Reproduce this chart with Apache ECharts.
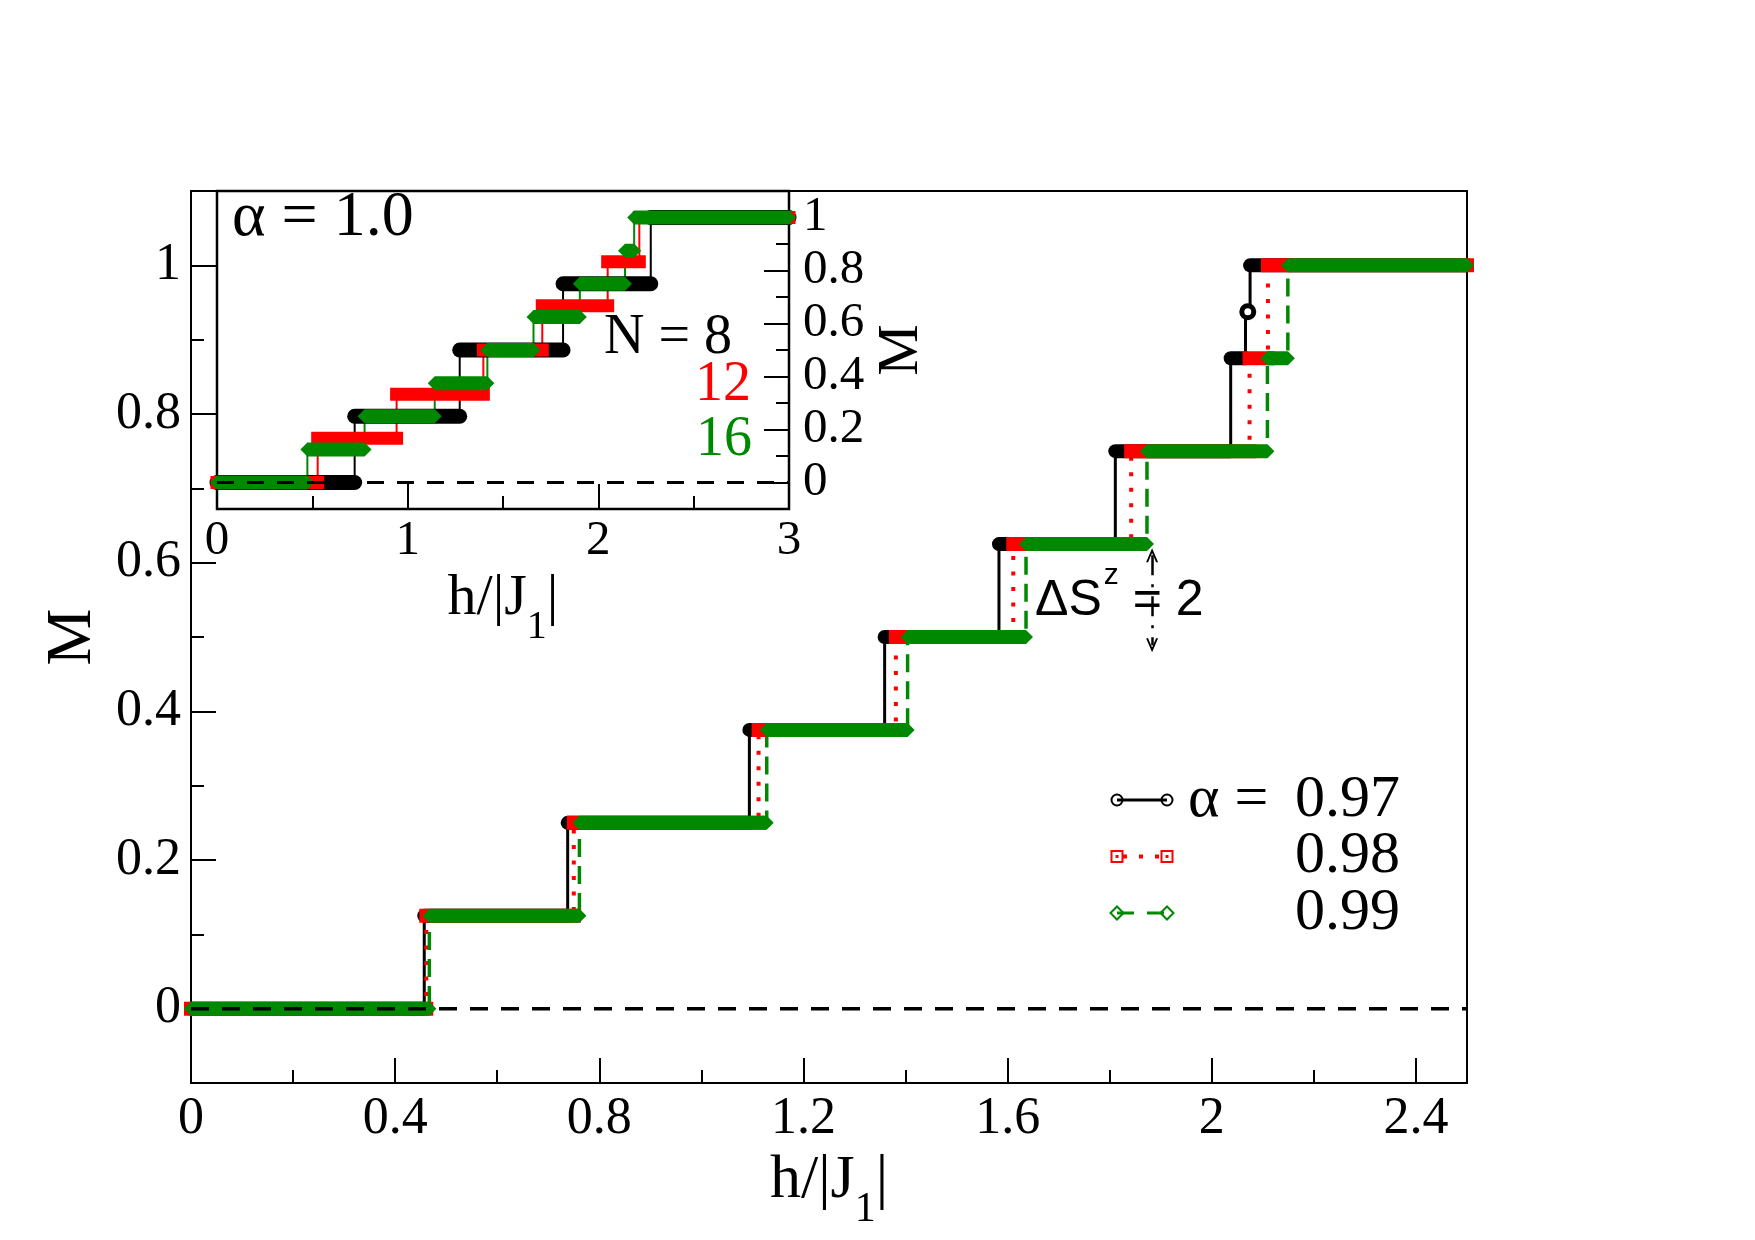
<!DOCTYPE html>
<html>
<head>
<meta charset="utf-8">
<script src="https://cdn.jsdelivr.net/npm/echarts@6.0.0/dist/echarts.min.js"></script>
<style>
html, body { margin: 0; padding: 0; background: #fff; }
#chart { width: 1755px; height: 1240px; }
</style>
</head>
<body>
<div id="chart"></div>
<script>
// magnetisation steps M(h), main panel alpha = 0.97/0.98/0.99, inset alpha = 1.0
const SERIF = 'Liberation Serif';
const SANS = 'Liberation Sans';
const BLACK = '#000000', RED = '#ff0000', GREEN = '#008800';

// main panel
const mainRange = [0, 2.5];
const levels97 = [0, 0.125, 0.25, 0.375, 0.5, 0.625, 0.75, 0.875, 0.9375, 1];
const jumps97 = [0.457, 0.738, 1.094, 1.359, 1.583, 1.811, 2.037, 2.066, 2.075];
const levels98 = [0, 0.125, 0.25, 0.375, 0.5, 0.625, 0.75, 0.875, 1];
const jumps98 = [0.461, 0.750, 1.112, 1.381, 1.611, 1.842, 2.074, 2.110];
const levels99 = [0, 0.125, 0.25, 0.375, 0.5, 0.625, 0.75, 0.875, 1];
const jumps99 = [0.467, 0.761, 1.128, 1.404, 1.636, 1.873, 2.109, 2.149];

// inset, N = 8 / 12 / 16
const insetRange = [0, 3];
const levelsN8 = [0, 0.25, 0.5, 0.75, 1];
const jumpsN8 = [0.722, 1.273, 1.815, 2.275];
const levelsN12 = [0, 0.1667, 0.3333, 0.5, 0.6667, 0.8333, 1];
const jumpsN12 = [0.528, 0.942, 1.397, 1.706, 2.049, 2.215];
const levelsN16 = [0, 0.125, 0.25, 0.375, 0.5, 0.625, 0.75, 0.875, 1];
const jumpsN16 = [0.474, 0.774, 1.142, 1.418, 1.660, 1.903, 2.140, 2.188];

// ticks
const mainXTicks = [0, 0.4, 0.8, 1.2, 1.6, 2, 2.4];
const mainXMinor = [0.2, 0.6, 1, 1.4, 1.8, 2.2];
const mainYTicks = [0, 0.2, 0.4, 0.6, 0.8, 1];
const mainYMinor = [0.1, 0.3, 0.5, 0.7, 0.9];
const insetXTicks = [0, 1, 2, 3];
const insetXMinor = [0.5, 1.5, 2.5];
const insetYTicks = [0, 0.2, 0.4, 0.6, 0.8, 1];
const insetYMinor = [0.1, 0.3, 0.5, 0.7, 0.9];

const legendNames = ['0.97', '0.98', '0.99'];
const insetNames = ['N = 8', '12', '16'];
const gapArrow = [1.883, 0.61, 0.489]; // h, top M, bottom M

const CHEVRON = 'path://M0,12 L6,0 L12,12 L10,12 L6,4 L2,12 Z';

function plateaus(levels, jumps, range) {
	// level i runs from jump i-1 to jump i
	let rows = [];
	for (let i = 0; i < levels.length; i++) {
		let a = i === 0 ? range[0] : jumps[i - 1];
		let b = i === jumps.length ? range[1] : jumps[i];
		rows.push([a, b, levels[i]]);
	}
	return rows;
}

function stepLine(rows, xi, yi, color, width, type) {
	let pts = [];
	rows.forEach(r => { pts.push([r[0], r[2]]); pts.push([r[1], r[2]]); });
	return {
		type: 'line', xAxisIndex: xi, yAxisIndex: yi, data: pts, symbol: 'none', z: 2, silent: true,
		lineStyle: { color: color, width: width, type: type, cap: 'butt' }
	};
}

function stepBars(rows, xi, yi, color, width, cap) {
	return {
		type: 'custom', xAxisIndex: xi, yAxisIndex: yi, data: rows, z: 3, clip: false, silent: true,
		encode: { x: [0, 1], y: 2 },
		renderItem: function (params, api) {
			let p0 = api.coord([api.value(0), api.value(2)]);
			let p1 = api.coord([api.value(1), api.value(2)]);
			if (cap === 'diamond') {
				let h = width / 2;
				return {
					type: 'polygon',
					shape: { points: [[p0[0] - h, p0[1]], [p0[0], p0[1] - h], [p1[0], p1[1] - h], [p1[0] + h, p1[1]], [p1[0], p1[1] + h], [p0[0], p0[1] + h]] },
					style: { fill: color }
				};
			}
			if (cap === 'round' && p1[0] - p0[0] < 8) {
				// a lone point shows as an open circle
				return {
					type: 'circle',
					shape: { cx: (p0[0] + p1[0]) / 2, cy: p0[1], r: 6 },
					style: { fill: '#fff', stroke: color, lineWidth: 5 }
				};
			}
			return {
				type: 'line',
				shape: { x1: p0[0], y1: p0[1], x2: p1[0], y2: p1[1] },
				style: { stroke: color, lineWidth: width, lineCap: cap }
			};
		}
	};
}

function tickAxis(grid, pos, range, ticks, len, label) {
	return {
		type: 'value', gridIndex: grid, position: pos, min: range[0], max: range[1],
		axisLine: { show: !!label, onZero: false, lineStyle: { color: '#000', width: 2 } },
		axisTick: { show: true, inside: true, length: len, customValues: ticks, lineStyle: { color: '#000', width: 2 } },
		axisLabel: label ? Object.assign({ show: true, customValues: ticks, color: '#000', fontFamily: SERIF }, label) : { show: false },
		splitLine: { show: false },
		minorTick: { show: false }
	};
}

const main97 = plateaus(levels97, jumps97, mainRange);
const main98 = plateaus(levels98, jumps98, mainRange);
const main99 = plateaus(levels99, jumps99, mainRange);
const insN8 = plateaus(levelsN8, jumpsN8, insetRange);
const insN12 = plateaus(levelsN12, jumpsN12, insetRange);
const insN16 = plateaus(levelsN16, jumpsN16, insetRange);

// axes
let xMain = tickAxis(0, 'bottom', mainRange, mainXTicks, 25, { fontSize: 52, margin: 10 });
Object.assign(xMain, {
	name: '{n|h/|J}{s|1}{n||}', nameLocation: 'middle', nameGap: 40,
	nameTextStyle: { rich: { n: { fontSize: 62, fontFamily: SERIF, color: '#000' }, s: { fontSize: 42, fontFamily: SERIF, color: '#000', padding: [58, 0, 0, 0] } } }
});
let yMain = tickAxis(0, 'left', [-0.1, 1.1], mainYTicks, 25, { fontSize: 52, margin: 10 });
Object.assign(yMain, {
	name: 'M', nameLocation: 'middle', nameRotate: 90, nameGap: 74,
	nameTextStyle: { fontSize: 64, fontFamily: SERIF, color: '#000' }
});
let xInset = tickAxis(1, 'bottom', insetRange, insetXTicks, 25, { fontSize: 49, margin: 8 });
Object.assign(xInset, {
	name: '{n|h/|J}{s|1}{n||}', nameLocation: 'middle', nameGap: 42,
	nameTextStyle: { rich: { n: { fontSize: 58, fontFamily: SERIF, color: '#000' }, s: { fontSize: 40, fontFamily: SERIF, color: '#000', padding: [56, 0, 0, 0] } } }
});
let yInset = tickAxis(1, 'right', [-0.1, 1.1], insetYTicks, 25, { fontSize: 49, margin: 14 });
Object.assign(yInset, {
	name: 'M', nameLocation: 'middle', nameRotate: 90, nameGap: 84,
	nameTextStyle: { fontSize: 58, fontFamily: SERIF, color: '#000' }
});

// legend drawn as graphic
let legendGraphic = [];
const legendColors = [BLACK, RED, GREEN];
legendNames.forEach((name, i) => {
	let y = 800 + i * 56.5;
	let xa = 1117, xb = 1167;
	let dash = [null, [4, 12], [17, 13]][i];
	legendGraphic.push({
		type: 'line', shape: { x1: xa, y1: y, x2: xb, y2: y },
		style: { stroke: legendColors[i], lineWidth: i === 1 ? 4 : 3, lineDash: dash, lineDashOffset: i === 1 ? -6 : 0 }
	});
	[xa, xb].forEach(cx => {
		if (i === 0) {
			legendGraphic.push({ type: 'circle', shape: { cx: cx, cy: y, r: 5.5 }, style: { fill: 'none', stroke: BLACK, lineWidth: 2 } });
		} else if (i === 1) {
			legendGraphic.push({ type: 'rect', shape: { x: cx - 5.5, y: y - 5.5, width: 11, height: 11 }, style: { fill: 'none', stroke: RED, lineWidth: 2 } });
			legendGraphic.push({ type: 'rect', shape: { x: cx - 1.5, y: y - 1.5, width: 3, height: 3 }, style: { fill: RED } });
		} else {
			legendGraphic.push({ type: 'polygon', shape: { points: [[cx - 6.5, y], [cx, y - 6.5], [cx + 6.5, y], [cx, y + 6.5]] }, style: { fill: 'none', stroke: GREEN, lineWidth: 2 } });
		}
	});
	legendGraphic.push({
		type: 'text', x: 1400, y: y,
		style: { text: name, fontSize: 60, fontFamily: SERIF, fill: '#000', align: 'right', verticalAlign: 'middle' }
	});
});
legendGraphic.push({
	type: 'text', x: 1188, y: 800,
	style: { text: 'α =', fontSize: 60, fontFamily: SERIF, fill: '#000', align: 'left', verticalAlign: 'middle' }
});

// inset labels
const insetLabelPos = [[732, 338], [751, 385], [752, 440]];
let insetGraphic = insetNames.map((t, i) => ({
	type: 'text', x: insetLabelPos[i][0], y: insetLabelPos[i][1], z: 10,
	style: { text: t, fontSize: 56, fontFamily: SERIF, fill: legendColors[i], align: 'right', verticalAlign: 'middle' }
}));
insetGraphic.push({
	type: 'text', x: 232, y: 218, z: 10,
	style: { text: 'α = 1.0', fontSize: 64, fontFamily: SERIF, fill: '#000', align: 'left', verticalAlign: 'middle' }
});
insetGraphic.push({
	type: 'text', x: 1035, y: 601, z: 10,
	style: {
		text: '{a|ΔS}{b|z}{a| = 2}', verticalAlign: 'middle', align: 'left',
		rich: {
			a: { fontSize: 50, fontFamily: SANS, fill: '#000', color: '#000' },
			b: { fontSize: 30, fontFamily: SANS, fill: '#000', color: '#000', padding: [0, 0, 50, 2] }
		}
	}
});

const option = {
	animation: false,
	backgroundColor: '#fff',
	grid: [
		{ left: 191, top: 191, width: 1276, height: 892, show: true, borderColor: '#000', borderWidth: 2, backgroundColor: 'transparent', containLabel: false, outerBoundsMode: 'none' },
		{ left: 217, top: 191, width: 572, height: 318, show: true, borderColor: '#000', borderWidth: 2.5, backgroundColor: '#fff', containLabel: false, outerBoundsMode: 'none' }
	],
	xAxis: [
		xMain,
		tickAxis(0, 'bottom', mainRange, mainXMinor, 13, null),
		xInset,
		tickAxis(1, 'bottom', insetRange, insetXMinor, 13, null)
	],
	yAxis: [
		yMain,
		tickAxis(0, 'left', [-0.1, 1.1], mainYMinor, 13, null),
		yInset,
		tickAxis(1, 'right', [-0.1, 1.1], insetYMinor, 13, null)
	],
	series: [
		stepLine(main97, 0, 0, BLACK, 3, 'solid'),
		stepLine(main98, 0, 0, RED, 4, [4, 11.5]),
		stepLine(main99, 0, 0, GREEN, 3.5, [18, 9]),
		stepBars(main97, 0, 0, BLACK, 14, 'round'),
		stepBars(main98, 0, 0, RED, 14, 'square'),
		stepBars(main99, 0, 0, GREEN, 14, 'diamond'),
		{
			type: 'line', xAxisIndex: 0, yAxisIndex: 0, data: mainRange.map(h => [h, 0]), symbol: 'none', z: 4, silent: true,
			lineStyle: { color: '#000', width: 3.5, type: [18, 13] },
			markLine: {
				silent: true, symbol: [CHEVRON, CHEVRON], symbolSize: [12, 14], label: { show: false },
				lineStyle: { color: '#000', width: 2.5, type: [20, 9, 3, 9] },
				emphasis: { disabled: true },
				data: [[{ coord: [gapArrow[0], gapArrow[1]] }, { coord: [gapArrow[0], gapArrow[2]] }]]
			}
		},
		stepLine(insN8, 2, 2, BLACK, 2, 'solid'),
		stepLine(insN12, 2, 2, RED, 2, 'solid'),
		stepLine(insN16, 2, 2, GREEN, 2, 'solid'),
		stepBars(insN8, 2, 2, BLACK, 15, 'round'),
		stepBars(insN12, 2, 2, RED, 13, 'square'),
		stepBars(insN16, 2, 2, GREEN, 14, 'diamond'),
		{
			type: 'line', xAxisIndex: 2, yAxisIndex: 2, data: insetRange.map(h => [h, 0]), symbol: 'none', z: 4, silent: true,
			lineStyle: { color: '#000', width: 3, type: [17, 13] }
		}
	],
	graphic: legendGraphic.concat(insetGraphic)
};

const chart = echarts.init(document.getElementById('chart'));
chart.setOption(option);
</script>
</body>
</html>
